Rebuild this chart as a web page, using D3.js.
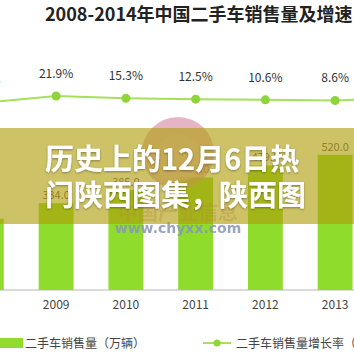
<!DOCTYPE html>
<html>
<head>
<meta charset="utf-8">
<script src="https://cdn.jsdelivr.net/npm/d3@7"></script>
<style>
  html, body { margin: 0; padding: 0; background: #fff; }
  svg { display: block; font-family: "Noto Sans CJK SC", "Noto Sans", sans-serif; }
</style>
</head>
<body>
<svg id="chart" width="354" height="354"></svg>
<script>
// data
const years = ["2008", "2009", "2010", "2011", "2012", "2013", "2014"];
const sales = [274.0, 334.0, 385.0, 433.0, 479.0, 520.0, 605.3];      // 万辆
const growth = [2.2, 21.9, 15.3, 12.5, 10.6, 8.6, 16.3];              // %
const titleText = "2008-2014年中国二手车销售量及增速";
const legendLabels = ["二手车销售量（万辆）", "二手车销售量增长率（%）"];
const overlayLines = ["历史上的12月6日热", "门陕西图集，陕西图"];

const W = 354, H = 354;
const barColor = "#8fdc2c";
const lineColor = "#a6e05a";
const dotColor = "#8ed43a";

const svg = d3.select("#chart");

// band scale wider than the window: 2008 and 2014 fall partly outside
const x = d3.scaleBand().domain(years).range([-48.5, 439.75])
  .paddingInner(0.5).paddingOuter(0.25);
const ySales = d3.scaleLinear().domain([0, 600]).range([290, 134]);
const yGrowth = d3.scaleLinear().domain([0, 25]).range([103.4, 94.95]);
const cx = d => x(d) + x.bandwidth() / 2;

// title
svg.append("text")
  .attr("x", 45).attr("y", 21)
  .attr("font-size", 18).attr("font-weight", "bold").attr("fill", "#222")
  .text(titleText);

// bars
svg.append("g").selectAll("rect")
  .data(years)
  .join("rect")
  .attr("x", d => x(d))
  .attr("width", x.bandwidth())
  .attr("y", (d, i) => ySales(sales[i]))
  .attr("height", (d, i) => ySales(0) - ySales(sales[i]))
  .attr("fill", barColor);

// bar value labels
svg.append("g").selectAll("text")
  .data(years)
  .join("text")
  .attr("x", d => cx(d))
  .attr("y", (d, i) => ySales(sales[i]) - 4)
  .attr("text-anchor", "middle")
  .attr("font-size", 11).attr("fill", "#555")
  .text((d, i) => sales[i].toFixed(1));

// x axis
const xAxis = d3.axisBottom(x).tickSize(0).tickPadding(10);
const axisG = svg.append("g").attr("transform", `translate(0,${ySales(0)})`).call(xAxis);
axisG.select(".domain").remove();
axisG.selectAll("text").attr("font-size", 12).attr("fill", "#444")
  .attr("font-family", "'Noto Sans CJK SC', sans-serif");
svg.append("line")
  .attr("x1", 0).attr("x2", W)
  .attr("y1", ySales(0)).attr("y2", ySales(0))
  .attr("stroke", "#b5b5b5").attr("stroke-width", 1);

// growth line
const pts = years.map((d, i) => [cx(d), yGrowth(growth[i])]);
svg.append("path")
  .attr("d", d3.line()(pts))
  .attr("fill", "none")
  .attr("stroke", lineColor).attr("stroke-width", 2);

svg.append("g").selectAll("circle")
  .data(pts)
  .join("circle")
  .attr("cx", d => d[0]).attr("cy", d => d[1]).attr("r", 4.5)
  .attr("fill", dotColor);

svg.append("g").selectAll("text")
  .data(years)
  .join("text")
  .attr("x", d => cx(d))
  .attr("y", (d, i) => yGrowth(growth[i]) - 18)
  .attr("text-anchor", "middle")
  .attr("font-size", 12).attr("fill", "#333")
  .text((d, i) => growth[i].toFixed(1) + "%");

// watermark logo
const wm = svg.append("g");
wm.append("circle").attr("cx", 178).attr("cy", 153).attr("r", 36)
  .attr("fill", "#d98ea6").attr("opacity", 0.65);
wm.append("circle").attr("cx", 178).attr("cy", 158).attr("r", 24)
  .attr("fill", "#e9c3cf").attr("opacity", 0.6);
wm.append("text").attr("x", 178).attr("y", 220).attr("text-anchor", "middle")
  .attr("font-size", 20).attr("font-weight", "bold")
  .attr("fill", "#c0708a").attr("opacity", 0.35)
  .text("中国产业信息");
wm.append("text").attr("x", 178).attr("y", 233).attr("text-anchor", "middle")
  .attr("font-size", 14).attr("font-weight", "bold")
  .attr("font-family", "'DejaVu Sans', sans-serif")
  .attr("fill", "#8796b6").attr("opacity", 0.85)
  .text("www.chyxx.com");

// overlay band with headline
svg.append("rect")
  .attr("x", 0).attr("y", 128).attr("width", W).attr("height", 96)
  .attr("fill", "rgb(176,156,10)").attr("opacity", 0.62);

const shadow = svg.append("defs").append("filter").attr("id", "sh")
  .attr("x", "-10%").attr("y", "-10%").attr("width", "120%").attr("height", "130%");
shadow.append("feDropShadow").attr("dx", 0).attr("dy", 1).attr("stdDeviation", 1.2)
  .attr("flood-color", "#000").attr("flood-opacity", 0.35);

svg.append("g").selectAll("text")
  .data(overlayLines)
  .join("text")
  .attr("x", 45)
  .attr("y", (d, i) => 170 + i * 36)
  .attr("font-size", 29).attr("font-weight", "bold").attr("fill", "#fff")
  .attr("filter", "url(#sh)")
  .text(d => d);

// legend
const lg = svg.append("g");
lg.append("rect").attr("x", 0).attr("y", 338).attr("width", 23).attr("height", 10)
  .attr("fill", barColor);
lg.append("text").attr("x", 25).attr("y", 348)
  .attr("font-size", 12).attr("fill", "#444").text(legendLabels[0]);
lg.append("line").attr("x1", 203).attr("x2", 231).attr("y1", 343).attr("y2", 343)
  .attr("stroke", lineColor).attr("stroke-width", 2);
lg.append("circle").attr("cx", 217).attr("cy", 343).attr("r", 3.5).attr("fill", dotColor);
lg.append("text").attr("x", 236).attr("y", 348)
  .attr("font-size", 12).attr("fill", "#444").text(legendLabels[1]);
</script>
</body>
</html>
